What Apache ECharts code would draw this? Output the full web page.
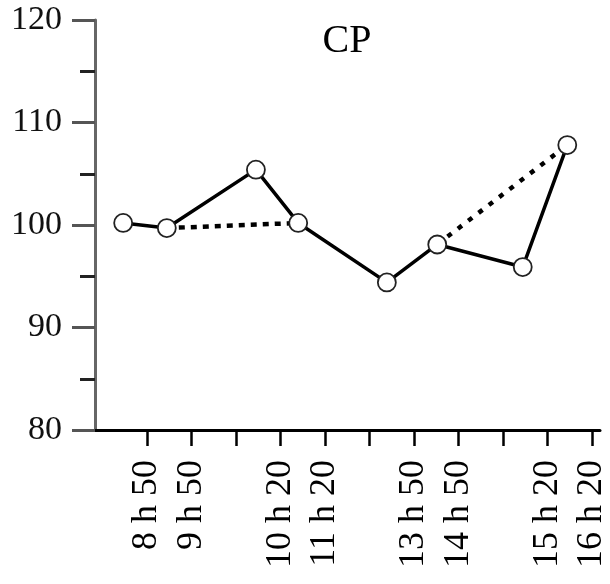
<!DOCTYPE html>
<html>
<head>
<meta charset="utf-8">
<script src="https://cdn.jsdelivr.net/npm/echarts@6/dist/echarts.min.js"></script>
<style>html,body{margin:0;padding:0;background:#fff;}#c{width:610px;height:584px;}</style>
</head>
<body>
<div id="c"></div>
<script>
// x positions in tick units (0 = first labelled tick "8 h 50")
var xPos = [-0.53, 0.44, 2.42, 3.36, 5.33, 6.45, 8.35, 9.34];
var values = [100.2, 99.7, 105.4, 100.2, 94.4, 98.1, 95.9, 107.8];
var dashedA = [1, 3];
var dashedB = [5, 7];
var tickLabels = ['8 h 50', '9 h 50', '', '10 h 20', '11 h 20', '', '13 h 50', '14 h 50', '', '15 h 20', '16 h 20'];
var yTicks = [80, 90, 100, 110, 120];

var serif = '"Liberation Serif", "DejaVu Serif", serif';
function pts(idx) { return idx.map(function (i) { return [xPos[i], values[i]]; }); }

var chart = echarts.init(document.getElementById('c'), null, {renderer: 'canvas'});
chart.setOption({
  animation: false,
  backgroundColor: '#fff',
  title: {
    text: 'CP', left: 342, top: 16, textAlign: 'center',
    textStyle: {fontFamily: serif, fontSize: 40, fontWeight: 'normal', color: '#000'}
  },
  grid: [
    {left: 95, right: 10, top: 20, bottom: 154},
    {left: 147, right: 13, top: 20, bottom: 154}
  ],
  xAxis: [
    {
      type: 'value', gridIndex: 0, min: -1.156, max: 10.067,
      axisLine: {show: true, onZero: false, lineStyle: {color: '#000', width: 3}},
      axisTick: {show: false}, axisLabel: {show: false}, splitLine: {show: false}
    },
    {
      type: 'value', gridIndex: 1, min: 0, max: 10, interval: 1,
      axisLine: {show: false, onZero: false},
      axisTick: {show: true, length: 16, lineStyle: {color: '#000', width: 2.5}},
      axisLabel: {
        show: true, rotate: 90, margin: 30,
        fontFamily: serif, fontSize: 36, color: '#000',
        formatter: function (v) { return tickLabels[Math.round(v)] || ''; }
      },
      splitLine: {show: false}
    }
  ],
  yAxis: [
    {
      type: 'value', gridIndex: 0, min: yTicks[0], max: yTicks[yTicks.length - 1], interval: 10,
      axisLine: {show: true, onZero: false, lineStyle: {color: '#666', width: 3}},
      axisTick: {show: true, length: 23, lineStyle: {color: '#555', width: 3}},
      minorTick: {show: true, splitNumber: 2, length: 15, lineStyle: {color: '#222', width: 3}},
      axisLabel: {margin: 33, fontFamily: serif, fontSize: 34, color: '#111'},
      splitLine: {show: false}, minorSplitLine: {show: false}
    },
    {type: 'value', gridIndex: 1, min: 0, max: 1, show: false}
  ],
  series: [
    {
      type: 'line', xAxisIndex: 0, yAxisIndex: 0, z: 2,
      data: pts(dashedA), symbol: 'none',
      lineStyle: {color: '#000', width: 4.5, type: [6, 6]}
    },
    {
      type: 'line', xAxisIndex: 0, yAxisIndex: 0, z: 2,
      data: pts(dashedB), symbol: 'none',
      lineStyle: {color: '#000', width: 4.5, type: [5, 8]}
    },
    {
      type: 'line', xAxisIndex: 0, yAxisIndex: 0, z: 3,
      data: xPos.map(function (x, i) { return [x, values[i]]; }),
      symbol: 'circle', symbolSize: 18,
      itemStyle: {color: '#fff', borderColor: '#222', borderWidth: 1.8},
      lineStyle: {color: '#000', width: 3.5}
    }
  ]
});
</script>
</body>
</html>
